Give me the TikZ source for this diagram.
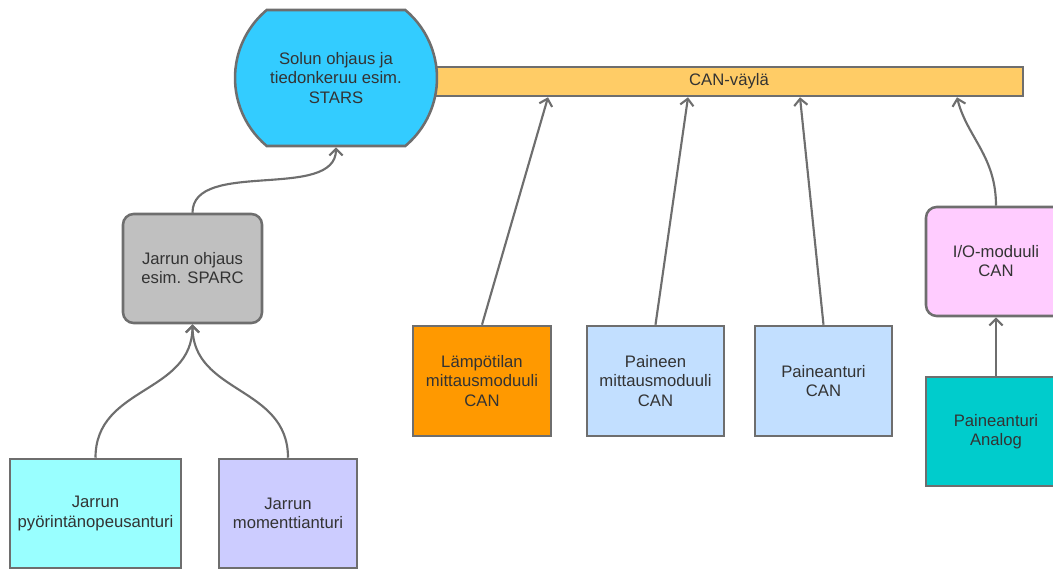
\documentclass[tikz,border=0pt]{standalone}
\usepackage{fontspec}
\setmainfont{Liberation Sans}
\usetikzlibrary{arrows.meta,shapes.misc}

\definecolor{edge}{HTML}{6E6E6E}
\definecolor{txt}{HTML}{333333}
\definecolor{starsfill}{HTML}{33CCFF}
\definecolor{canfill}{HTML}{FFCC66}
\definecolor{sparcfill}{HTML}{C0C0C0}
\definecolor{speedfill}{HTML}{99FFFF}
\definecolor{torquefill}{HTML}{CCCCFF}
\definecolor{tempfill}{HTML}{FF9900}
\definecolor{pressfill}{HTML}{C2DFFF}
\definecolor{iofill}{HTML}{FFCCFF}
\definecolor{analogfill}{HTML}{00CCCC}

\begin{document}
\begin{tikzpicture}[x=0.75pt,y=-0.75pt,
  wh/.style 2 args={minimum width=#1*0.75pt, minimum height=#2*0.75pt},
  box/.style={draw=edge, line width=1.9pt, text=txt, align=center,
    inner sep=0pt, font=\fontsize{12.5}{14.3}\selectfont},
  rbox/.style={box, rounded corners=8pt},
  link/.style={draw=edge, line width=1.6pt,
    -{Straight Barb[length=5pt,width=10pt,line width=1.6pt]}}]

\useasboundingbox (0,0) rectangle (1053,570);

% bus and controller
\node[box, fill=canfill, wh={588}{29}] (can) at (729,81.5) {CAN-väylä};
\node[box, fill=starsfill, rounded rectangle, rounded rectangle arc length=100,
      wh={202}{136}] (stars) at (336,78)
      {Solun ohjaus ja\\tiedonkeruu esim.\\STARS};

% brake branch
\node[rbox, fill=sparcfill, wh={139}{109}] (sparc) at (192.5,268.5)
      {Jarrun ohjaus\\esim. SPARC};
\node[box, fill=speedfill, wh={171}{109}] (speed) at (95.5,513.5)
      {Jarrun\\pyörintänopeusanturi};
\node[box, fill=torquefill, wh={138}{109}] (torque) at (288,513.5)
      {Jarrun\\momenttianturi};

% CAN devices
\node[box, fill=tempfill, wh={138}{110}] (temp) at (482,381)
      {Lämpötilan\\mittausmoduuli\\CAN};
\node[box, fill=pressfill, wh={137}{110}] (pmod) at (655.5,381)
      {Paineen\\mittausmoduuli\\CAN};
\node[box, fill=pressfill, wh={137}{110}] (pcan) at (823.5,381)
      {Paineanturi\\CAN};
\node[rbox, fill=iofill, wh={140}{109}] (io) at (996,261.5)
      {I/O-moduuli\\CAN};
\node[box, fill=analogfill, wh={140}{109}] (analog) at (996,431.5)
      {Paineanturi\\Analog};

% connectors
\draw[link] (sparc.north) .. controls +(0,-54) and +(0,54) .. (stars.south);
\draw[link] (speed.north) .. controls +(0,-72) and +(0,70) .. (sparc.south);
\draw[link] (torque.north) .. controls +(0,-72) and +(0,70) .. (sparc.south);
\draw[link] (temp.north) -- (548,0 |- can.south);
\draw[link] (pmod.north) -- (688,0 |- can.south);
\draw[link] (pcan.north) -- (800,0 |- can.south);
\draw[link] (io.north) .. controls +(0,-50) and +(10,40) .. (957,0 |- can.south);
\draw[link] (analog.north) -- (io.south);
\end{tikzpicture}
\end{document}
